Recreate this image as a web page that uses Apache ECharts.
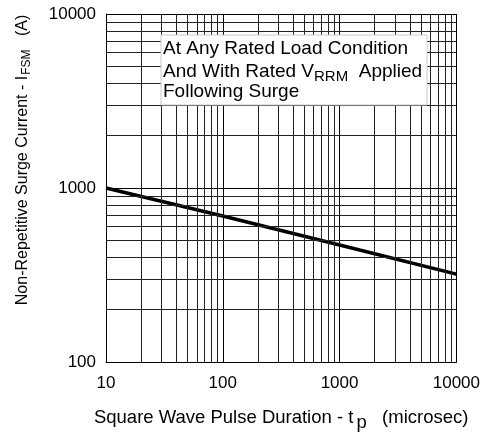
<!DOCTYPE html>
<html>
<head>
<meta charset="utf-8">
<script src="https://cdn.jsdelivr.net/npm/echarts@6/dist/echarts.min.js"></script>
<style>
  html, body { margin: 0; padding: 0; background: #fff; }
  #surgeChart { width: 483px; height: 437px; }
</style>
</head>
<body>
<div id="surgeChart"></div>
<script>
// pulse duration (microsec) and surge current (A)
var pulseUs = [10, 100, 1000, 10000];
var surgeA = [1000, 690, 470, 320];

// in-between log grid lines
var xMinorTicks = [20, 30, 40, 50, 60, 70, 80, 90,
                   200, 300, 400, 500, 600, 700, 800, 900,
                   2000, 3000, 4000, 5000, 6000, 7000, 8000, 9000];
var yMinorTicks = [200, 300, 400, 500, 600, 700, 800, 900,
                   2000, 3000, 4000, 5000, 6000, 7000, 8000, 9000];

var noteLines = ['At Any Rated Load Condition', 'And With Rated V', 'RRM', 'Applied', 'Following Surge'];

var FONT = '"Liberation Sans", Arial, sans-serif';

var chart = echarts.init(document.getElementById('surgeChart'));

var curve = [];
for (var i = 0; i < pulseUs.length; i++) {
	curve.push([pulseUs[i], surgeA[i]]);
}
var minorLines = [];
for (var j = 0; j < xMinorTicks.length; j++) {
	minorLines.push({ xAxis: xMinorTicks[j] });
}
for (var k = 0; k < yMinorTicks.length; k++) {
	minorLines.push({ yAxis: yMinorTicks[k] });
}

function plainNum(v) {
	return String(Math.round(v));
}

var option = {
	backgroundColor: '#fff',
	animation: false,
	grid: {
		left: 106,
		right: 26,
		top: 14,
		bottom: 70
	},
	xAxis: {
		type: 'log',
		logBase: 10,
		min: 10,
		max: 10000,
		name: 'Square Wave Pulse Duration - t{sub|p}   (microsec)',
		nameLocation: 'middle',
		nameGap: 41,
		nameTextStyle: {
			color: '#000',
			fontFamily: FONT,
			fontSize: 18.5,
			rich: {
				sub: { fontFamily: FONT, fontSize: 18.5, color: '#000', padding: [10, 0, 0, 3] }
			}
		},
		axisLine: { show: true, lineStyle: { color: '#000', width: 1 } },
		axisTick: { show: false },
		axisLabel: { color: '#000', fontFamily: FONT, fontSize: 17, margin: 13, formatter: plainNum },
		splitLine: { show: true, lineStyle: { color: '#000', width: 1 } }
	},
	yAxis: {
		type: 'log',
		logBase: 10,
		min: 100,
		max: 10000,
		name: 'Non-Repetitive Surge Current - I{sub|FSM}   (A)',
		nameLocation: 'middle',
		nameGap: 73,
		nameTextStyle: {
			color: '#000',
			fontFamily: FONT,
			fontSize: 16,
			padding: [0, 0, 0, 56],
			rich: {
				sub: { fontFamily: FONT, fontSize: 12, color: '#000', padding: [8, 0, 0, 1] }
			}
		},
		axisLine: { show: true, lineStyle: { color: '#000', width: 1 } },
		axisTick: { show: false },
		axisLabel: { color: '#000', fontFamily: FONT, fontSize: 17, margin: 10, formatter: plainNum },
		splitLine: { show: true, lineStyle: { color: '#000', width: 1 } }
	},
	graphic: [
		{
			type: 'rect',
			z: 100,
			shape: { x: 161, y: 35, width: 266, height: 70 },
			style: { fill: '#fff', stroke: '#c8c8c8', lineWidth: 1 }
		},
		{
			type: 'text',
			z: 101,
			x: 163,
			y: 49,
			style: { text: noteLines[0], fill: '#000', font: '19px ' + FONT, verticalAlign: 'middle' }
		},
		{
			type: 'text',
			z: 101,
			x: 163,
			y: 72,
			style: {
				text: noteLines[1] + '{sub|' + noteLines[2] + '}  ' + noteLines[3],
				fill: '#000',
				font: '19px ' + FONT,
				verticalAlign: 'middle',
				rich: {
					sub: { fontSize: 15, fontFamily: FONT, fill: '#000', padding: [10, 0, 0, 0] }
				}
			}
		},
		{
			type: 'text',
			z: 101,
			x: 163,
			y: 92,
			style: { text: noteLines[4], fill: '#000', font: '19px ' + FONT, verticalAlign: 'middle' }
		}
	],
	series: [
		{
			type: 'line',
			data: curve,
			symbol: 'none',
			silent: true,
			lineStyle: { color: '#000', width: 3.5 },
			markLine: {
				silent: true,
				symbol: 'none',
				label: { show: false },
				lineStyle: { color: '#222', width: 1, type: 'solid' },
				data: minorLines
			}
		}
	]
};
chart.setOption(option);
</script>
</body>
</html>
